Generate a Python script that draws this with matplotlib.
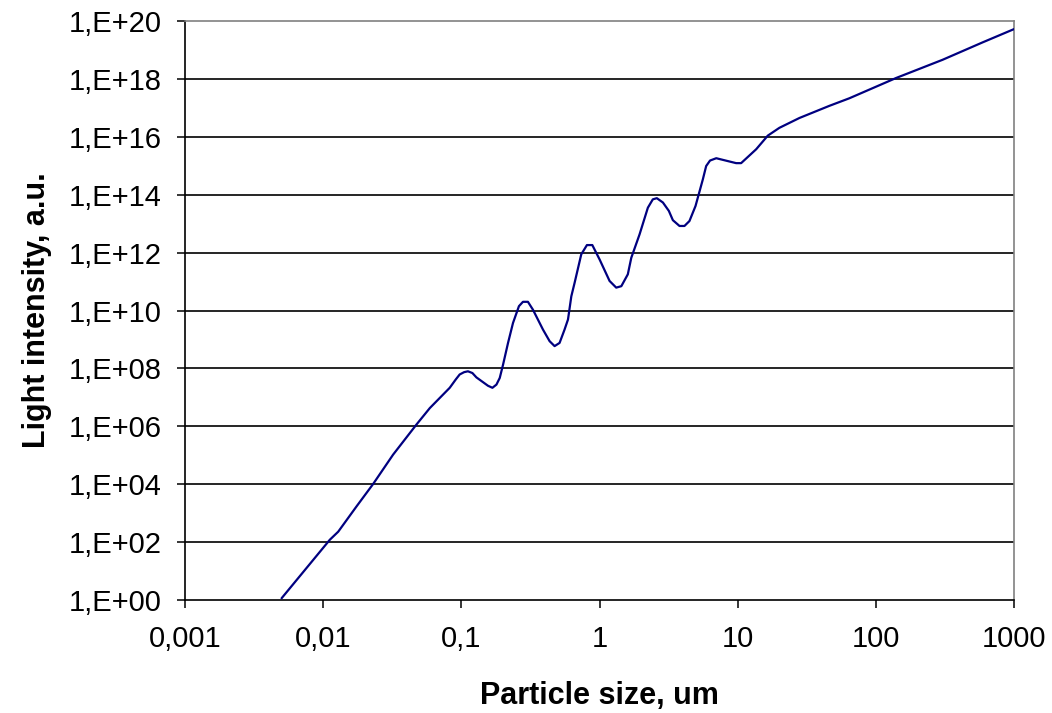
import numpy as np
import matplotlib.pyplot as plt
from matplotlib.ticker import FixedLocator, FixedFormatter, NullLocator

# ---------- data (decimal exponents) ----------
# particle size, log10(um)
log_size = [-2.301, -1.952, -1.891, -1.759, -1.638, -1.494, -1.325, -1.228, -1.084, -1.040,
            -1.012, -0.980, -0.952, -0.920, -0.891, -0.807, -0.775, -0.746, -0.722, -0.698,
            -0.662, -0.626, -0.583, -0.554, -0.518, -0.482, -0.409, -0.361, -0.325, -0.289,
            -0.253, -0.228, -0.204, -0.180, -0.132, -0.091, -0.052, 0.001, 0.073, 0.121,
            0.158, 0.205, 0.230, 0.290, 0.350, 0.386, 0.415, 0.459, 0.502, 0.531,
            0.579, 0.615, 0.651, 0.695, 0.748, 0.772, 0.800, 0.845, 0.989, 1.025,
            1.134, 1.218, 1.302, 1.447, 1.664, 1.808, 2.146, 2.483, 2.772, 3.000]
# light intensity, log10(a.u.)
log_intensity = [0.06, 2.08, 2.36, 3.23, 4.01, 5.02, 6.06, 6.63, 7.33, 7.62,
                 7.79, 7.87, 7.90, 7.84, 7.69, 7.40, 7.33, 7.44, 7.67, 8.13,
                 8.88, 9.57, 10.15, 10.30, 10.30, 10.03, 9.34, 8.94, 8.77, 8.88,
                 9.34, 9.69, 10.49, 10.96, 11.94, 12.26, 12.26, 11.76, 11.02, 10.79,
                 10.84, 11.25, 11.82, 12.63, 13.55, 13.84, 13.88, 13.73, 13.44, 13.12,
                 12.92, 12.92, 13.09, 13.61, 14.53, 14.99, 15.18, 15.26, 15.09, 15.09,
                 15.57, 16.04, 16.31, 16.65, 17.07, 17.33, 18.03, 18.66, 19.26, 19.72]

size_um = 10.0 ** np.array(log_size)
intensity = 10.0 ** np.array(log_intensity)

x_ticks = [0.001, 0.01, 0.1, 1, 10, 100, 1000]
x_tick_labels = ["0,001", "0,01", "0,1", "1", "10", "100", "1000"]
y_exponents = list(range(0, 21, 2))
y_tick_labels = ["1,E+%02d" % e for e in y_exponents]

# ---------- plot ----------
plt.rcParams['font.family'] = ['Liberation Sans', 'DejaVu Sans']

fig = plt.figure(figsize=(10.52, 7.13), dpi=100)
ax = fig.add_axes([185 / 1052, 1 - 600 / 713, (1014 - 185) / 1052, (600 - 21) / 713])

ax.plot(size_um, intensity, color="#000080", lw=1.6, zorder=3,
        solid_joinstyle="round", solid_capstyle="round")

ax.set_xscale("log")
ax.set_yscale("log")
ax.set_xlim(0.001, 1000)
ax.set_ylim(1, 1e20)

ax.xaxis.set_major_locator(FixedLocator(x_ticks))
ax.xaxis.set_major_formatter(FixedFormatter(x_tick_labels))
ax.xaxis.set_minor_locator(NullLocator())
y_ticks = [10.0 ** e for e in y_exponents]
ax.yaxis.set_major_locator(FixedLocator(y_ticks))
ax.yaxis.set_major_formatter(FixedFormatter(y_tick_labels))
ax.yaxis.set_minor_locator(NullLocator())

for yv in y_ticks[1:-1]:
    ax.axhline(yv, color="black", lw=1.2, zorder=1)

ax.tick_params(axis="both", direction="out", length=6, width=1.1,
               labelsize=21, color="black")
ax.tick_params(axis="y", pad=11)
ax.tick_params(axis="x", pad=12)

ax.spines["left"].set_color("black")
ax.spines["bottom"].set_color("black")
ax.spines["top"].set_color("#808080")
ax.spines["right"].set_color("#808080")
for s in ax.spines.values():
    s.set_linewidth(1.2)

ax.set_xlabel("Particle size, um", fontsize=22, fontweight="bold", labelpad=20)
ax.set_ylabel("Light intensity, a.u.", fontsize=22, fontweight="bold", labelpad=12)

fig.savefig("out.png", dpi=100)
